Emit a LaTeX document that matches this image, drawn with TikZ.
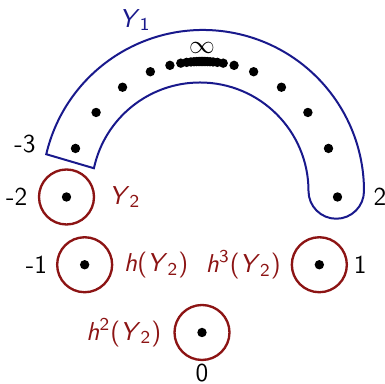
\documentclass[tikz,border=0pt]{standalone}
\usepackage{tikz}
\usetikzlibrary{positioning,calc}
\definecolor{yblue}{rgb}{0.1,0.1,0.55}
\definecolor{yred}{rgb}{0.55,0.08,0.08}
\newcommand{\Yn}[1]{\textit{Y}\textsubscript{#1}}

\begin{document}
\begin{tikzpicture}[x=0.4255pt, y=0.4255pt, font=\sffamily\fontsize{11}{13}\selectfont,
  dot/.style={circle, fill, inner sep=0pt, minimum size=4pt},
  orb/.style={circle, draw=yred, line width=1pt, inner sep=0pt, minimum size=23.4pt},
  tag/.style={text=yred}]
\useasboundingbox (0,0) rectangle (385,384);
\coordinate (O) at (202,187);
\draw[yblue, line width=0.85pt] ($(203,193)+(166.8:161)$) arc[start angle=166.8, end angle=0, radius=161]
  arc[start angle=0, end angle=-180, radius=27.75] arc[start angle=0, end angle=167.9, radius=108.5] -- cycle;
\foreach \a [count=\i] in {21, 38.6, 54.1, 67.6, 76.3, 81, 83.5, 85.3, 86.6, 87.6, 88.4, 89, 89.5, 89.9} {
  \node[dot] (r\i) at ($(O)+(\a:135.5)$) {};
  \node[dot] (l\i) at ($(O)+({180-\a}:135.5)$) {};
}
\node[dot] (p2) at ($(O)+(0:135.5)$) {};
\node[orb] (m2) at ($(O)+(180:135.5)$) {};
\node[orb] (m1) at ($(O)+(210:135.5)$) {};
\node[orb] (z) at ($(O)+(270:135.5)$) {};
\node[orb] (p1) at ($(O)+(330:135.5)$) {};
\foreach \n in {m2,m1,z,p1}
  \node[dot] (\n-pt) at (\n) {};
\node[text=yblue] (ty1) at (135,364) {\Yn{1}};
\node (inf) at (202,336) {$\infty$};
\node (lm3) at (25,240) {-3};
\node[right=9.6pt of p2] (lp2) {2};
\node[left=1pt of m2] (lm2) {-2};
\node[tag, right=2.4pt of m2] (ty2) {\Yn{2}};
\node[left=0.3pt of m1] (lm1) {-1};
\node[tag, right=1.1pt of m1] (th1) {\textit{h}(\Yn{2})};
\node[tag, left=0.7pt of p1] (th3) {\textit{h}\textsuperscript{3}(\Yn{2})};
\node[right=-1pt of p1] (lp1) {1};
\node[tag, left=1.6pt of z] (th2) {\textit{h}\textsuperscript{2}(\Yn{2})};
\node[below=-2.2pt of z] (lz) {0};
\end{tikzpicture}
\end{document}
